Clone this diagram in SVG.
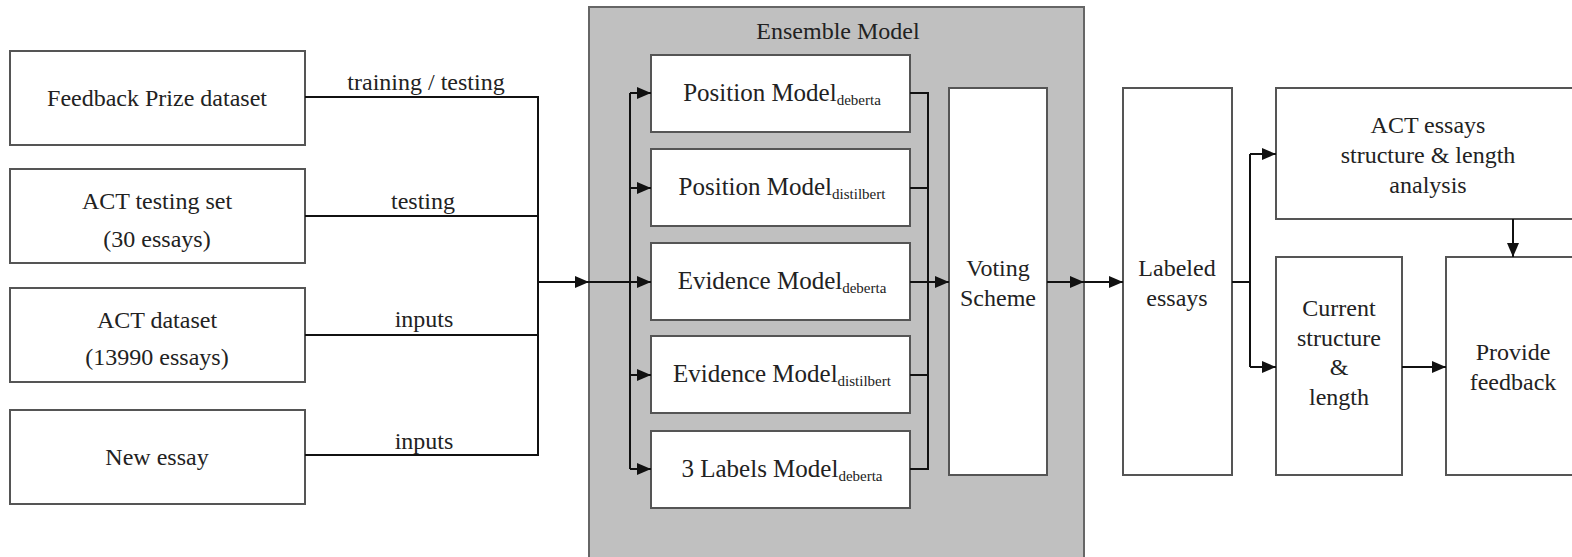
<svg xmlns="http://www.w3.org/2000/svg" width="1572" height="557" viewBox="0 0 1572 557">
<style>
.box{fill:#fff;stroke:#555;stroke-width:2}
.t{font-family:'Liberation Serif','DejaVu Serif',serif;font-size:24px;fill:#222;text-anchor:middle}
.m{font-size:25px}
.sub{font-size:15px}
.ln{fill:none;stroke:#111;stroke-width:2}
</style>
<defs>
<marker id="ah" viewBox="0 0 14 12" refX="14" refY="6" markerWidth="14" markerHeight="12" markerUnits="userSpaceOnUse" orient="auto">
<path d="M0,0 L14,6 L0,12 z" fill="#111"/>
</marker>
</defs>
<rect width="1572" height="557" fill="#fff"/>

<g id="ensemble">
<rect x="589" y="7" width="495" height="560" fill="#c0c0c0" stroke="#666" stroke-width="2"/>
<text class="t" x="838" y="39">Ensemble Model</text>
</g>

<g id="feedback-prize">
<rect class="box" x="10" y="51" width="295" height="94"/>
<text class="t" x="157" y="106">Feedback Prize dataset</text>
</g>
<g id="act-testing">
<rect class="box" x="10" y="169" width="295" height="94"/>
<text class="t" x="157" y="209">ACT testing set</text>
<text class="t" x="157" y="247">(30 essays)</text>
</g>
<g id="act-dataset">
<rect class="box" x="10" y="288" width="295" height="94"/>
<text class="t" x="157" y="328">ACT dataset</text>
<text class="t" x="157" y="365">(13990 essays)</text>
</g>
<g id="new-essay">
<rect class="box" x="10" y="410" width="295" height="94"/>
<text class="t" x="157" y="465">New essay</text>
</g>

<g id="pos-deberta">
<rect class="box" x="651" y="55" width="259" height="77"/>
<text class="t m" x="782" y="101">Position Model<tspan class="sub" dy="4">deberta</tspan></text>
</g>
<g id="pos-distilbert">
<rect class="box" x="651" y="149" width="259" height="77"/>
<text class="t m" x="782" y="195">Position Model<tspan class="sub" dy="4">distilbert</tspan></text>
</g>
<g id="evi-deberta">
<rect class="box" x="651" y="243" width="259" height="77"/>
<text class="t m" x="782" y="289">Evidence Model<tspan class="sub" dy="4">deberta</tspan></text>
</g>
<g id="evi-distilbert">
<rect class="box" x="651" y="336" width="259" height="77"/>
<text class="t m" x="782" y="382">Evidence Model<tspan class="sub" dy="4">distilbert</tspan></text>
</g>
<g id="labels3-deberta">
<rect class="box" x="651" y="431" width="259" height="77"/>
<text class="t m" x="782" y="477">3 Labels Model<tspan class="sub" dy="4">deberta</tspan></text>
</g>

<g id="voting">
<rect class="box" x="949" y="88" width="98" height="387"/>
<text class="t" x="998" y="276">Voting</text>
<text class="t" x="998" y="306">Scheme</text>
</g>
<g id="labeled">
<rect class="box" x="1123" y="88" width="109" height="387"/>
<text class="t" x="1177" y="276">Labeled</text>
<text class="t" x="1177" y="306">essays</text>
</g>
<g id="act-analysis">
<rect class="box" x="1276" y="88" width="310" height="131"/>
<text class="t" x="1428" y="133">ACT essays</text>
<text class="t" x="1428" y="163">structure &amp; length</text>
<text class="t" x="1428" y="193">analysis</text>
</g>
<g id="current">
<rect class="box" x="1276" y="257" width="126" height="218"/>
<text class="t" x="1339" y="316">Current</text>
<text class="t" x="1339" y="346">structure</text>
<text class="t" x="1339" y="375">&amp;</text>
<text class="t" x="1339" y="405">length</text>
</g>
<g id="provide">
<rect class="box" x="1446" y="257" width="140" height="218"/>
<text class="t" x="1513" y="360">Provide</text>
<text class="t" x="1513" y="390">feedback</text>
</g>

<g id="connectors">
<polyline class="ln" points="305,97 538,97 538,455 305,455"/>
<line class="ln" x1="305" y1="216" x2="538" y2="216"/>
<line class="ln" x1="305" y1="335" x2="538" y2="335"/>
<line class="ln" x1="538" y1="282" x2="589" y2="282" marker-end="url(#ah)"/>
<line class="ln" x1="589" y1="282" x2="651" y2="282" marker-end="url(#ah)"/>
<line class="ln" x1="630" y1="93" x2="630" y2="469"/>
<line class="ln" x1="630" y1="93" x2="651" y2="93" marker-end="url(#ah)"/>
<line class="ln" x1="630" y1="188" x2="651" y2="188" marker-end="url(#ah)"/>
<line class="ln" x1="630" y1="375" x2="651" y2="375" marker-end="url(#ah)"/>
<line class="ln" x1="630" y1="469" x2="651" y2="469" marker-end="url(#ah)"/>
<polyline class="ln" points="910,93 928,93 928,469 910,469"/>
<line class="ln" x1="910" y1="188" x2="928" y2="188"/>
<line class="ln" x1="910" y1="282" x2="928" y2="282"/>
<line class="ln" x1="910" y1="375" x2="928" y2="375"/>
<line class="ln" x1="928" y1="282" x2="949" y2="282" marker-end="url(#ah)"/>
<line class="ln" x1="1047" y1="282" x2="1084" y2="282" marker-end="url(#ah)"/>
<line class="ln" x1="1084" y1="282" x2="1123" y2="282" marker-end="url(#ah)"/>
<polyline class="ln" points="1232,282 1250,282"/>
<line class="ln" x1="1250" y1="154" x2="1250" y2="367"/>
<line class="ln" x1="1250" y1="154" x2="1276" y2="154" marker-end="url(#ah)"/>
<line class="ln" x1="1250" y1="367" x2="1276" y2="367" marker-end="url(#ah)"/>
<line class="ln" x1="1402" y1="367" x2="1446" y2="367" marker-end="url(#ah)"/>
<line class="ln" x1="1513" y1="219" x2="1513" y2="257" marker-end="url(#ah)"/>
<text class="t" x="426" y="90">training / testing</text>
<text class="t" x="423" y="209">testing</text>
<text class="t" x="424" y="327">inputs</text>
<text class="t" x="424" y="449">inputs</text>
</g>
</svg>
